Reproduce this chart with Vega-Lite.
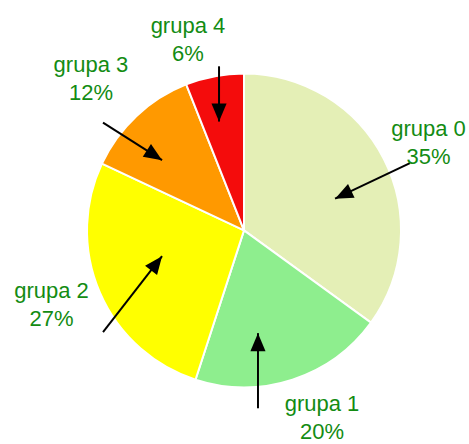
{
  "$schema": "https://vega.github.io/schema/vega-lite/v6.json",
  "width": 469,
  "height": 444,
  "padding": 0,
  "autosize": {"type": "fit", "contains": "padding"},
  "background": "white",
  "config": {"view": {"stroke": null}},
  "datasets": {
    "slices": [
      {"grupa": "grupa 0", "share": 35, "ord": 0},
      {"grupa": "grupa 1", "share": 20, "ord": 1},
      {"grupa": "grupa 2", "share": 27, "ord": 2},
      {"grupa": "grupa 3", "share": 12, "ord": 3},
      {"grupa": "grupa 4", "share": 6, "ord": 4}
    ],
    "labels": [
      {"label": "grupa 0\n35%", "u": 117.5, "v": 61.1},
      {"label": "grupa 1\n20%", "u": 49.7, "v": -116.6},
      {"label": "grupa 2\n27%", "u": -122.6, "v": -43.3},
      {"label": "grupa 3\n12%", "u": -97.5, "v": 101.9},
      {"label": "grupa 4\n6%", "u": -35.7, "v": 127.4}
    ],
    "arrows": [
      {"grupa": "grupa 0", "u": 105.7, "v": 43.3, "tu": 58.0, "tv": 20.4},
      {"grupa": "grupa 1", "u": 8.9, "v": -114.6, "tu": 8.9, "tv": -66.2},
      {"grupa": "grupa 2", "u": -89.8, "v": -65.6, "tu": -52.2, "tv": -16.6},
      {"grupa": "grupa 3", "u": -89.8, "v": 69.4, "tu": -52.2, "tv": 45.2},
      {"grupa": "grupa 4", "u": -15.9, "v": 105.7, "tu": -15.9, "tv": 70.1}
    ]
  },
  "resolve": {"scale": {"x": "shared", "y": "shared"}},
  "layer": [
    {
      "data": {"name": "slices"},
      "mark": {"type": "arc", "outerRadius": 157, "stroke": "white", "strokeWidth": 2},
      "encoding": {
        "theta": {"field": "share", "type": "quantitative", "stack": true},
        "order": {"field": "ord", "type": "quantitative"},
        "color": {
          "field": "grupa",
          "type": "nominal",
          "scale": {
            "domain": ["grupa 0", "grupa 1", "grupa 2", "grupa 3", "grupa 4"],
            "range": ["#e4efb6", "#8eee8e", "#ffff00", "#ff9900", "#f40c0c"]
          },
          "legend": null
        },
        "x": {"datum": 0, "type": "quantitative", "scale": {"domain": [-155.41, 143.31], "nice": false, "zero": false}, "axis": null},
        "y": {"datum": 0, "type": "quantitative", "scale": {"domain": [-134.39, 148.41], "nice": false, "zero": false}, "axis": null}
      }
    },
    {
      "data": {"name": "arrows"},
      "mark": {"type": "rule", "color": "black", "strokeWidth": 2},
      "encoding": {
        "x": {"field": "u", "type": "quantitative"},
        "y": {"field": "v", "type": "quantitative"},
        "x2": {"field": "tu"},
        "y2": {"field": "tv"}
      }
    },
    {
      "data": {"name": "arrows"},
      "transform": [
        {"calculate": "atan2(datum.tu - datum.u, datum.tv - datum.v) * 180 / PI", "as": "ang"}
      ],
      "mark": {"type": "point", "shape": "M0,0L-0.42,1L0.42,1Z", "filled": true, "color": "black", "opacity": 1, "size": 1300, "strokeWidth": 0},
      "encoding": {
        "x": {"field": "tu", "type": "quantitative"},
        "y": {"field": "tv", "type": "quantitative"},
        "angle": {"field": "ang", "type": "quantitative", "scale": null}
      }
    },
    {
      "data": {"name": "labels"},
      "mark": {"type": "text", "font": "Liberation Sans", "fontSize": 22, "lineHeight": 28, "lineBreak": "\n", "align": "center", "baseline": "alphabetic", "color": "#138c13"},
      "encoding": {
        "x": {"field": "u", "type": "quantitative"},
        "y": {"field": "v", "type": "quantitative"},
        "text": {"field": "label"}
      }
    }
  ]
}
